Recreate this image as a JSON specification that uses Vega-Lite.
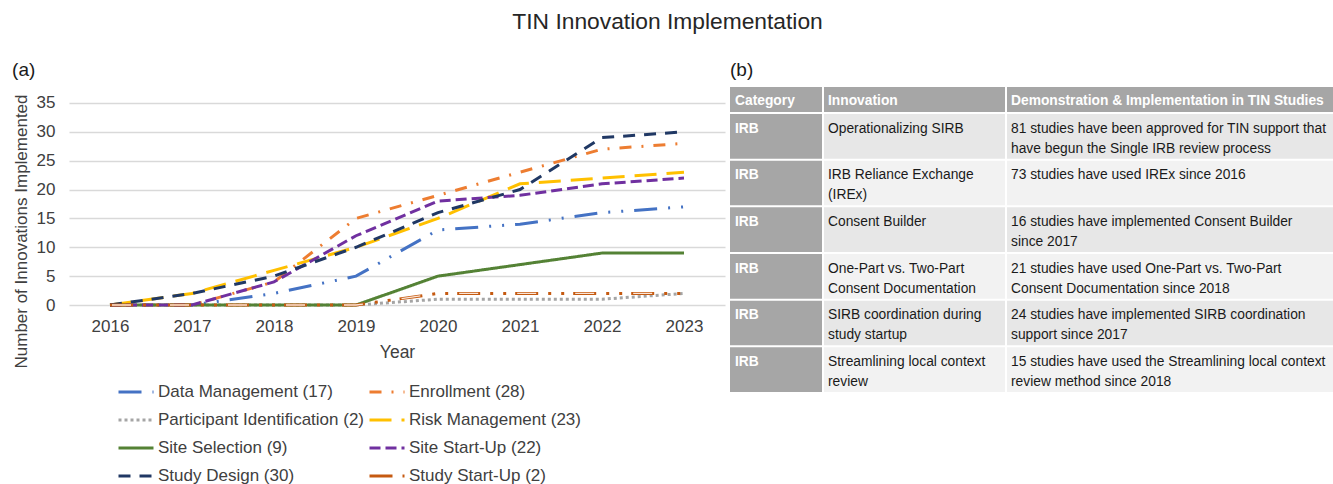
{
  "$schema": "https://vega.github.io/schema/vega-lite/v6.json",
  "padding": {"left": 12, "top": 11, "right": 0, "bottom": 0},
  "title": {"text": "TIN Innovation Implementation", "fontSize": 22.8, "fontWeight": "normal", "color": "#262626", "anchor": "middle", "offset": 27, "dx": -6},
  "config": {
    "font": "Liberation Sans",
    "view": {"stroke": null}
  },
  "spacing": 5,
  "datasets": {
    "lines": [
      {"year": "2016", "series": "Data Management (17)", "value": 0},
      {"year": "2017", "series": "Data Management (17)", "value": 0},
      {"year": "2018", "series": "Data Management (17)", "value": 2},
      {"year": "2019", "series": "Data Management (17)", "value": 5},
      {"year": "2020", "series": "Data Management (17)", "value": 13},
      {"year": "2021", "series": "Data Management (17)", "value": 14},
      {"year": "2022", "series": "Data Management (17)", "value": 16},
      {"year": "2023", "series": "Data Management (17)", "value": 17},
      {"year": "2016", "series": "Enrollment (28)", "value": 0},
      {"year": "2017", "series": "Enrollment (28)", "value": 0},
      {"year": "2018", "series": "Enrollment (28)", "value": 4},
      {"year": "2019", "series": "Enrollment (28)", "value": 15},
      {"year": "2020", "series": "Enrollment (28)", "value": 19},
      {"year": "2021", "series": "Enrollment (28)", "value": 23},
      {"year": "2022", "series": "Enrollment (28)", "value": 27},
      {"year": "2023", "series": "Enrollment (28)", "value": 28},
      {"year": "2016", "series": "Participant Identification (2)", "value": 0},
      {"year": "2017", "series": "Participant Identification (2)", "value": 0},
      {"year": "2018", "series": "Participant Identification (2)", "value": 0},
      {"year": "2019", "series": "Participant Identification (2)", "value": 0},
      {"year": "2020", "series": "Participant Identification (2)", "value": 1},
      {"year": "2021", "series": "Participant Identification (2)", "value": 1},
      {"year": "2022", "series": "Participant Identification (2)", "value": 1},
      {"year": "2023", "series": "Participant Identification (2)", "value": 2},
      {"year": "2016", "series": "Risk Management (23)", "value": 0},
      {"year": "2017", "series": "Risk Management (23)", "value": 2},
      {"year": "2018", "series": "Risk Management (23)", "value": 6},
      {"year": "2019", "series": "Risk Management (23)", "value": 10},
      {"year": "2020", "series": "Risk Management (23)", "value": 15},
      {"year": "2021", "series": "Risk Management (23)", "value": 21},
      {"year": "2022", "series": "Risk Management (23)", "value": 22},
      {"year": "2023", "series": "Risk Management (23)", "value": 23},
      {"year": "2016", "series": "Site Selection (9)", "value": 0},
      {"year": "2017", "series": "Site Selection (9)", "value": 0},
      {"year": "2018", "series": "Site Selection (9)", "value": 0},
      {"year": "2019", "series": "Site Selection (9)", "value": 0},
      {"year": "2020", "series": "Site Selection (9)", "value": 5},
      {"year": "2021", "series": "Site Selection (9)", "value": 7},
      {"year": "2022", "series": "Site Selection (9)", "value": 9},
      {"year": "2023", "series": "Site Selection (9)", "value": 9},
      {"year": "2016", "series": "Site Start-Up (22)", "value": 0},
      {"year": "2017", "series": "Site Start-Up (22)", "value": 0},
      {"year": "2018", "series": "Site Start-Up (22)", "value": 4},
      {"year": "2019", "series": "Site Start-Up (22)", "value": 12},
      {"year": "2020", "series": "Site Start-Up (22)", "value": 18},
      {"year": "2021", "series": "Site Start-Up (22)", "value": 19},
      {"year": "2022", "series": "Site Start-Up (22)", "value": 21},
      {"year": "2023", "series": "Site Start-Up (22)", "value": 22},
      {"year": "2016", "series": "Study Design (30)", "value": 0},
      {"year": "2017", "series": "Study Design (30)", "value": 2},
      {"year": "2018", "series": "Study Design (30)", "value": 5},
      {"year": "2019", "series": "Study Design (30)", "value": 10},
      {"year": "2020", "series": "Study Design (30)", "value": 16},
      {"year": "2021", "series": "Study Design (30)", "value": 20},
      {"year": "2022", "series": "Study Design (30)", "value": 29},
      {"year": "2023", "series": "Study Design (30)", "value": 30},
      {"year": "2016", "series": "Study Start-Up (2)", "value": 0},
      {"year": "2017", "series": "Study Start-Up (2)", "value": 0},
      {"year": "2018", "series": "Study Start-Up (2)", "value": 0},
      {"year": "2019", "series": "Study Start-Up (2)", "value": 0},
      {"year": "2020", "series": "Study Start-Up (2)", "value": 2},
      {"year": "2021", "series": "Study Start-Up (2)", "value": 2},
      {"year": "2022", "series": "Study Start-Up (2)", "value": 2},
      {"year": "2023", "series": "Study Start-Up (2)", "value": 2}
    ],
    "header": [
      {"col": 1, "label": "Category"},
      {"col": 2, "label": "Innovation"},
      {"col": 3, "label": "Demonstration & Implementation in TIN Studies"}
    ],
    "table": [
      {"row": 1, "category": "IRB", "innovation": "Operationalizing SIRB", "demo": "81 studies have been approved for TIN support that\nhave begun the Single IRB review process"},
      {"row": 2, "category": "IRB", "innovation": "IRB Reliance Exchange\n(IREx)", "demo": "73 studies have used IREx since 2016"},
      {"row": 3, "category": "IRB", "innovation": "Consent Builder", "demo": "16 studies have implemented Consent Builder\nsince 2017"},
      {"row": 4, "category": "IRB", "innovation": "One-Part vs. Two-Part\nConsent Documentation", "demo": "21 studies have used One-Part vs. Two-Part\nConsent Documentation since 2018"},
      {"row": 5, "category": "IRB", "innovation": "SIRB coordination during\nstudy startup", "demo": "24 studies have implemented SIRB coordination\nsupport since 2017"},
      {"row": 6, "category": "IRB", "innovation": "Streamlining local context\nreview", "demo": "15 studies have used the Streamlining local context\nreview method since 2018"}
    ]
  },
  "hconcat": [
    {
      "title": {"text": "(a)", "anchor": "start", "frame": "bounds", "fontSize": 19, "fontWeight": "normal", "color": "#1a1a1a", "offset": 7},
      "width": 656,
      "height": 218,
      "data": {"name": "lines"},
      "encoding": {
        "x": {"field": "year", "type": "ordinal", "scale": {"type": "point", "padding": 0.5},
          "axis": {"title": "Year", "labelAngle": 0, "domain": false, "ticks": false, "labelFontSize": 17, "labelColor": "#404040", "labelPadding": 13, "titleFontSize": 17.5, "titleFontWeight": "normal", "titleColor": "#404040", "titlePadding": 9}},
        "y": {"field": "value", "type": "quantitative", "scale": {"domain": [0, 37.77], "nice": false},
          "axis": {"values": [0, 5, 10, 15, 20, 25, 30, 35], "title": "Number of Innovations Implemented", "domain": false, "ticks": false, "grid": true, "gridColor": "#d9d9d9", "gridWidth": 1.3, "labelFontSize": 17, "labelColor": "#404040", "labelPadding": 14, "titleFontSize": 17, "titleFontWeight": "normal", "titleColor": "#404040", "titlePadding": 6, "titleY": 144}}
      },
      "layer": [
        {
          "mark": {"type": "line", "strokeWidth": 3},
          "encoding": {
            "color": {"field": "series", "type": "nominal",
              "scale": {"domain": ["Data Management (17)", "Enrollment (28)", "Participant Identification (2)", "Risk Management (23)", "Site Selection (9)", "Site Start-Up (22)", "Study Design (30)", "Study Start-Up (2)"],
                "range": ["#4472c4", "#ed7d31", "#a5a5a5", "#ffc000", "#548235", "#7030a0", "#203864", "#c55a11"]},
              "legend": {"title": null, "orient": "none", "direction": "horizontal", "legendX": 48, "legendY": 286, "columns": 2, "columnPadding": -1, "rowPadding": 1, "symbolSize": 1225, "symbolStrokeWidth": 3, "labelFontSize": 17, "labelColor": "#404040", "labelOffset": 3, "labelLimit": 400, "padding": 0}},
            "strokeDash": {"field": "series", "type": "nominal",
              "scale": {"domain": ["Data Management (17)", "Enrollment (28)", "Participant Identification (2)", "Risk Management (23)", "Site Selection (9)", "Site Start-Up (22)", "Study Design (30)", "Study Start-Up (2)"],
                "range": [[23, 11, 2, 11, 2, 11], [12, 10, 2, 10], [3, 3], [22, 10], [1, 0], [11, 5], [12, 9], [23, 10, 3, 10, 3, 9]]},
              "legend": {"title": null, "orient": "none", "direction": "horizontal", "legendX": 48, "legendY": 286, "columns": 2, "columnPadding": -1, "rowPadding": 1, "symbolSize": 1225, "symbolStrokeWidth": 3, "labelFontSize": 17, "labelColor": "#404040", "labelOffset": 3, "labelLimit": 400, "padding": 0}}
          }
        },
        {
          "transform": [{"filter": "datum.series == 'Study Start-Up (2)'"}],
          "mark": {"type": "line", "strokeWidth": 1.3, "color": "#fbe5d6", "strokeDash": [19, 39], "strokeDashOffset": -2},
          "encoding": {}
        }
      ]
    },
    {
      "title": {"text": "(b)", "anchor": "start", "frame": "bounds", "fontSize": 19, "fontWeight": "normal", "color": "#1a1a1a", "offset": 7},
      "spacing": 2,
      "vconcat": [
        {
          "spacing": 2,
          "hconcat": [
            {"width": 92, "height": 25, "data": {"name": "header"}, "transform": [{"filter": "datum.col == 1"}], "view": {"fill": "#a6a6a6"},
              "mark": {"type": "text", "align": "left", "baseline": "top", "dx": 5, "dy": 6.5, "font": "Liberation Sans", "fontSize": 13.8, "fontWeight": "bold", "color": "#ffffff"},
              "encoding": {"x": {"value": 0}, "y": {"value": 0}, "text": {"field": "label"}}},
            {"width": 181, "height": 25, "data": {"name": "header"}, "transform": [{"filter": "datum.col == 2"}], "view": {"fill": "#a6a6a6"},
              "mark": {"type": "text", "align": "left", "baseline": "top", "dx": 4, "dy": 6.5, "font": "Liberation Sans", "fontSize": 13.8, "fontWeight": "bold", "color": "#ffffff"},
              "encoding": {"x": {"value": 0}, "y": {"value": 0}, "text": {"field": "label"}}},
            {"width": 328, "height": 25, "data": {"name": "header"}, "transform": [{"filter": "datum.col == 3"}], "view": {"fill": "#a6a6a6"},
              "mark": {"type": "text", "align": "left", "baseline": "top", "dx": 4, "dy": 6.5, "font": "Liberation Sans", "fontSize": 13.8, "fontWeight": "bold", "color": "#ffffff"},
              "encoding": {"x": {"value": 0}, "y": {"value": 0}, "text": {"field": "label"}}}
          ]
        },
        {
          "spacing": 2,
          "hconcat": [
            {"width": 92, "height": 278, "data": {"name": "table"},
              "layer": [
                {"mark": {"type": "rect", "color": "#a6a6a6"},
                  "encoding": {"y": {"field": "row", "type": "ordinal", "scale": {"paddingInner": 0.043, "paddingOuter": 0}, "axis": null}, "x": {"value": 0}, "x2": {"value": "width"}}},
                {"mark": {"type": "text", "align": "left", "baseline": "top", "dx": 5, "dy": 7.5, "lineBreak": "\n", "lineHeight": 20, "font": "Liberation Sans", "fontSize": 13.8, "fontWeight": "bold", "color": "#ffffff"},
                  "encoding": {"y": {"field": "row", "type": "ordinal", "bandPosition": 0, "axis": null}, "x": {"value": 0}, "text": {"field": "category"}}}
              ]},
            {"width": 181, "height": 278, "data": {"name": "table"},
              "layer": [
                {"transform": [{"filter": "datum.row % 2 == 1"}], "mark": {"type": "rect", "color": "#e7e7e7"},
                  "encoding": {"y": {"field": "row", "type": "ordinal", "scale": {"domain": [1, 2, 3, 4, 5, 6], "paddingInner": 0.043, "paddingOuter": 0}, "axis": null}, "x": {"value": 0}, "x2": {"value": "width"}}},
                {"transform": [{"filter": "datum.row % 2 == 0"}], "mark": {"type": "rect", "color": "#f2f2f2"},
                  "encoding": {"y": {"field": "row", "type": "ordinal", "axis": null}, "x": {"value": 0}, "x2": {"value": "width"}}},
                {"mark": {"type": "text", "align": "left", "baseline": "top", "dx": 4, "dy": 7.5, "lineBreak": "\n", "lineHeight": 20, "font": "Liberation Sans", "fontSize": 13.8, "color": "#1a1a1a"},
                  "encoding": {"y": {"field": "row", "type": "ordinal", "bandPosition": 0, "axis": null}, "x": {"value": 0}, "text": {"field": "innovation"}}}
              ]},
            {"width": 328, "height": 278, "data": {"name": "table"},
              "layer": [
                {"transform": [{"filter": "datum.row % 2 == 1"}], "mark": {"type": "rect", "color": "#e7e7e7"},
                  "encoding": {"y": {"field": "row", "type": "ordinal", "scale": {"domain": [1, 2, 3, 4, 5, 6], "paddingInner": 0.043, "paddingOuter": 0}, "axis": null}, "x": {"value": 0}, "x2": {"value": "width"}}},
                {"transform": [{"filter": "datum.row % 2 == 0"}], "mark": {"type": "rect", "color": "#f2f2f2"},
                  "encoding": {"y": {"field": "row", "type": "ordinal", "axis": null}, "x": {"value": 0}, "x2": {"value": "width"}}},
                {"mark": {"type": "text", "align": "left", "baseline": "top", "dx": 4, "dy": 7.5, "lineBreak": "\n", "lineHeight": 20, "font": "Liberation Sans", "fontSize": 13.8, "color": "#1a1a1a"},
                  "encoding": {"y": {"field": "row", "type": "ordinal", "bandPosition": 0, "axis": null}, "x": {"value": 0}, "text": {"field": "demo"}}}
              ]}
          ]
        }
      ]
    }
  ]
}
